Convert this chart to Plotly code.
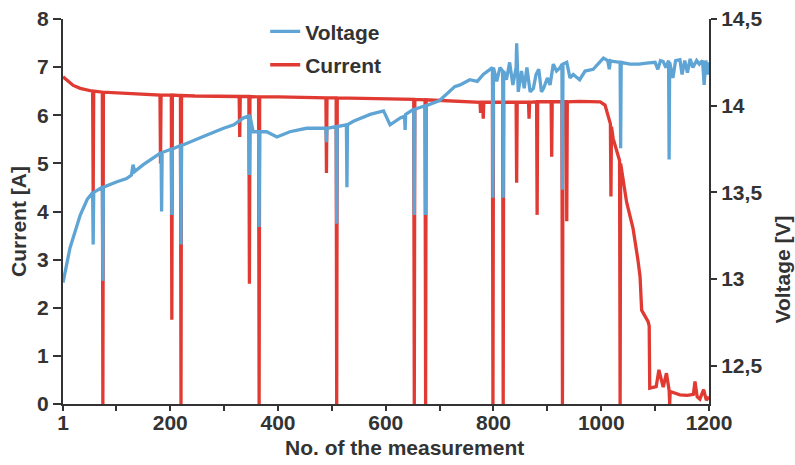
import plotly.graph_objects as go

# ---- data ----
current_idx = [1, 10, 20, 33, 45, 56, 57, 58, 74, 75, 76, 90, 120, 150, 181, 182, 183,
               202, 203, 204, 219, 220, 221, 246, 300, 328, 329, 330, 346, 347, 348,
               364, 365, 366, 400, 450, 489, 490, 491, 508, 509, 510, 560, 600, 652,
               653, 654, 673, 674, 675, 700, 740, 760, 775, 776, 777, 780, 781, 782,
               790, 798, 799, 800, 817, 818, 819, 830, 842, 843, 844, 855, 865, 866,
               867, 880, 881, 882, 895, 907, 908, 909, 927, 928, 929, 935, 936, 937,
               960, 990, 998, 1007, 1016, 1017, 1018, 1019, 1022, 1034, 1035, 1036,
               1047, 1059, 1068, 1072, 1075, 1087, 1089, 1090, 1102, 1107, 1115, 1121,
               1126, 1127, 1128, 1146, 1160, 1171, 1174, 1178, 1183, 1190, 1195, 1200]
current_val = [6.80, 6.72, 6.62, 6.56, 6.52, 6.50, 4.40, 6.50, 6.48, 0.00, 6.48, 6.47,
               6.45, 6.44, 6.42, 5.00, 6.42, 6.42, 1.75, 6.42, 6.41, 0.00, 6.41, 6.40,
               6.40, 6.39, 5.55, 6.39, 6.39, 2.50, 6.39, 6.38, 0.00, 6.38, 6.38, 6.37,
               6.36, 4.80, 6.36, 6.36, 0.00, 6.36, 6.35, 6.34, 6.33, 0.00, 6.33, 6.32,
               0.00, 6.32, 6.31, 6.29, 6.28, 6.27, 6.05, 6.27, 6.27, 5.93, 6.27, 6.27,
               6.27, 0.00, 6.27, 6.27, 0.00, 6.27, 6.27, 6.27, 4.60, 6.27, 6.27, 6.27,
               5.93, 6.27, 6.28, 3.93, 6.28, 6.28, 6.28, 5.14, 6.28, 6.28, 0.00, 6.28,
               6.28, 3.80, 6.28, 6.29, 6.29, 6.28, 6.21, 5.86, 5.82, 4.31, 5.76, 5.52,
               5.06, 0.00, 5.00, 4.20, 3.65, 3.00, 2.65, 1.95, 1.71, 1.62, 0.33, 0.36,
               0.71, 0.35, 0.64, 0.28, 0.00, 0.26, 0.19, 0.18, 0.20, 0.47, 0.15, 0.10,
               0.30, 0.08, 0.15]

voltage_idx = [1, 14, 33, 46, 56, 57, 58, 74, 75, 76, 100, 119, 128, 131, 134, 150, 183,
               184, 185, 202, 203, 204, 219, 220, 221, 246, 267, 299, 318, 336, 346, 347,
               348, 354, 364, 365, 366, 379, 398, 422, 453, 489, 490, 491, 508, 509, 510,
               527, 528, 529, 540, 571, 596, 608, 627, 635, 636, 637, 652, 653, 654, 673,
               674, 675, 700, 728, 738, 756, 770, 781, 793, 798, 799, 800, 806, 812, 817,
               818, 819, 824, 830, 836, 842, 843, 846, 852, 857, 862, 868, 874, 879, 884,
               889, 893, 900, 905, 911, 917, 924, 927, 928, 929, 936, 942, 948, 960, 970,
               985, 1004, 1012, 1015, 1017, 1022, 1035, 1036, 1037, 1053, 1070, 1084,
               1100, 1105, 1110, 1115, 1120, 1125, 1126, 1127, 1133, 1138, 1146, 1150,
               1155, 1160, 1165, 1170, 1177, 1182, 1188, 1191, 1194, 1198, 1200]
voltage_val = [12.98, 13.18, 13.37, 13.46, 13.50, 13.20, 13.50, 13.53, 12.99, 13.53,
               13.56, 13.58, 13.60, 13.66, 13.62, 13.66, 13.73, 13.39, 13.73, 13.75,
               13.37, 13.75, 13.77, 13.20, 13.77, 13.80, 13.83, 13.87, 13.89, 13.93,
               13.94, 13.60, 13.94, 13.85, 13.85, 13.30, 13.85, 13.85, 13.82, 13.85,
               13.87, 13.87, 13.79, 13.87, 13.88, 13.32, 13.88, 13.89, 13.53, 13.89,
               13.91, 13.95, 13.97, 13.89, 13.93, 13.94, 13.86, 13.95, 13.98, 13.37,
               13.98, 14.00, 13.37, 14.00, 14.03, 14.11, 14.12, 14.15, 14.14, 14.18,
               14.21, 14.22, 13.47, 14.22, 14.14, 14.22, 14.20, 13.47, 14.20, 14.15,
               14.25, 14.12, 14.22, 14.36, 14.08, 14.20, 14.10, 14.22, 14.08, 14.10,
               14.18, 14.21, 14.08, 14.10, 14.16, 14.12, 14.24, 14.20, 14.22, 14.24,
               13.515, 14.24, 14.25, 14.16, 14.18, 14.15, 14.20, 14.21, 14.275, 14.26,
               14.21, 14.26, 14.255, 14.25, 13.755, 14.25, 14.24, 14.24, 14.245, 14.25,
               14.21, 14.26, 14.255, 14.22, 14.26, 13.69, 14.25, 14.16, 14.26, 14.265,
               14.18, 14.26, 14.19, 14.27, 14.22, 14.26, 14.24, 14.26, 14.12, 14.26,
               14.18, 14.25]

x_tick_vals = [1, 100, 200, 300, 400, 500, 600, 700, 800, 900, 1000, 1100, 1200]
x_tick_text = ["1", "", "200", "", "400", "", "600", "", "800", "", "1000", "", "1200"]
y_tick_vals = [0, 1, 2, 3, 4, 5, 6, 7, 8]
y2_tick_vals = [12.5, 13.0, 13.5, 14.0, 14.5]
y2_tick_text = ["12,5", "13", "13,5", "14", "14,5"]

BLUE = "#5ea4d4"
RED = "#e03a33"
AXIS = "#333333"
FONT = "Liberation Sans, Arial, sans-serif"
TXT = dict(family=FONT, size=21, color=AXIS, weight="bold")

fig = go.Figure()
fig.add_trace(go.Scatter(x=voltage_idx, y=voltage_val, mode="lines", name="Voltage",
                         legendgroup="v", yaxis="y2", line=dict(color=BLUE, width=3.3)))
fig.add_trace(go.Scatter(x=current_idx, y=current_val, mode="lines", name="Current",
                         legendgroup="c", line=dict(color=RED, width=3.3)))

axis_common = dict(showline=True, linecolor=AXIS, linewidth=2, ticks="outside",
                   tickcolor=AXIS, tickwidth=2, showgrid=False, zeroline=False,
                   tickfont=TXT)

fig.update_layout(
    width=795, height=465,
    margin=dict(l=63, r=86, t=19, b=61, autoexpand=False),
    plot_bgcolor="white", paper_bgcolor="white",
    font=TXT,
    xaxis=dict(range=[1, 1200], tickvals=x_tick_vals, ticktext=x_tick_text,
               ticklen=5, ticklabelstandoff=-6, **axis_common),
    yaxis=dict(range=[0, 8], tickvals=y_tick_vals, ticklen=8, **axis_common),
    yaxis2=dict(range=[12.28, 14.5], tickvals=y2_tick_vals, ticktext=y2_tick_text,
                overlaying="y", side="right", ticklen=6, **axis_common),
    legend=dict(x=0.313, y=1.02, xanchor="left", yanchor="top",
                traceorder="grouped", tracegroupgap=3,
                bgcolor="rgba(0,0,0,0)", font=TXT),
    showlegend=True,
    annotations=[
        dict(text="Current [A]", xref="paper", yref="paper", x=-0.07, y=0.475,
             textangle=-90, showarrow=False, xanchor="center", yanchor="middle",
             font=TXT),
        dict(text="Voltage [V]", xref="paper", yref="paper", x=1.1135, y=0.35,
             textangle=-90, showarrow=False, xanchor="center", yanchor="middle",
             font=TXT),
        dict(text="No. of the measurement", xref="paper", yref="paper", x=0.529, y=-0.113,
             showarrow=False, xanchor="center", yanchor="middle",
             font=TXT),
    ],
)

fig.write_html("out.html", config={"displayModeBar": False},
               post_script="document.body.style.margin='0';")
